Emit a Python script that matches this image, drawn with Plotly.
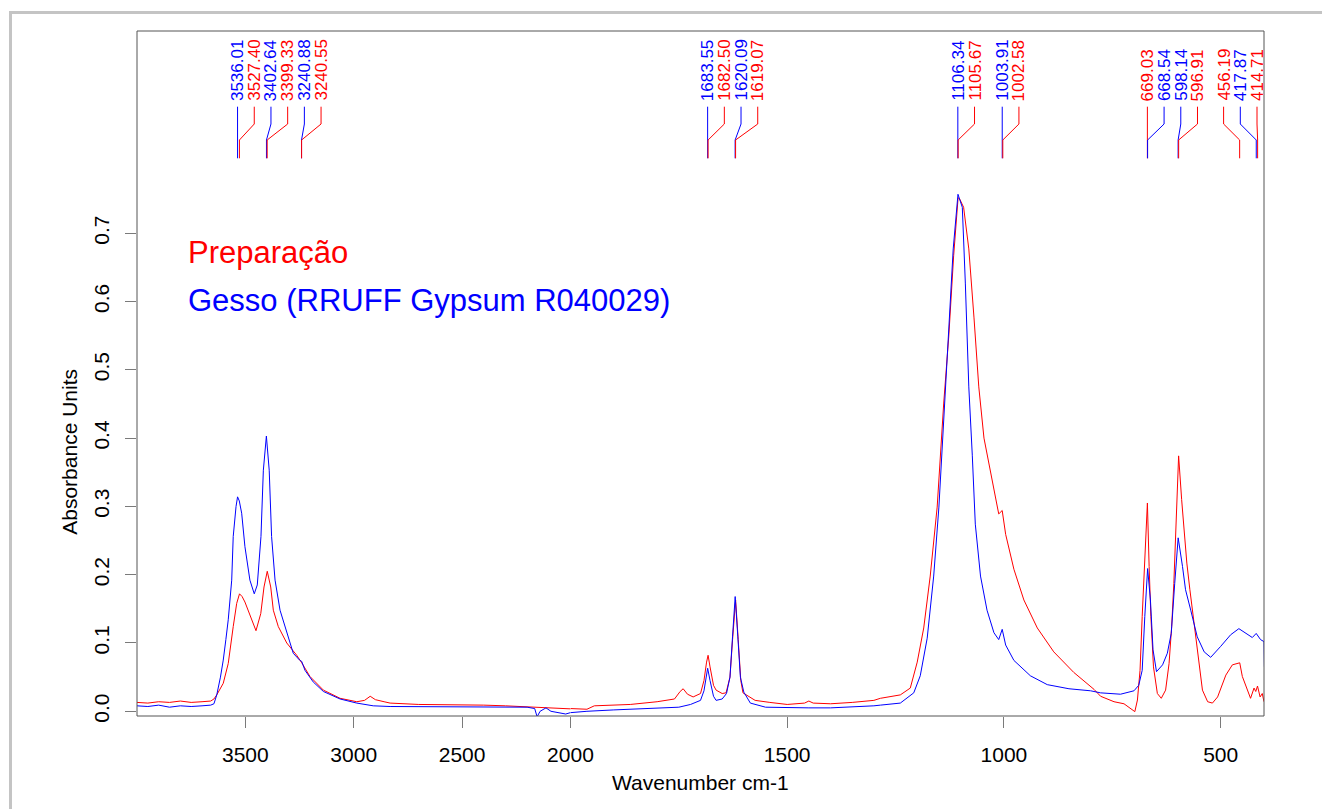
import plotly.graph_objects as go

# espectros (cm-1, absorbância)
blue_wn = [4000, 3950, 3900, 3850, 3800, 3750, 3700, 3660, 3645, 3632, 3615, 3602, 3590, 3579,
           3563, 3556, 3543, 3536, 3528, 3517, 3502, 3479, 3459, 3445, 3428, 3417, 3403, 3390,
           3379, 3363, 3340, 3309, 3279, 3250, 3240, 3225, 3187, 3140, 3063, 2986, 2910, 2832,
           2700, 2600, 2500, 2400, 2300, 2200, 2165, 2154, 2140, 2113, 2090, 2050, 2022, 2000,
           1962, 1900, 1850, 1800, 1750, 1723, 1700, 1692, 1686, 1683.5, 1678, 1670, 1664, 1650,
           1640, 1632, 1626, 1620, 1614, 1608, 1600, 1585, 1550, 1500, 1450, 1400, 1350, 1300,
           1285, 1239, 1208, 1193, 1177, 1162, 1150, 1139, 1127, 1117, 1106, 1096, 1089, 1081,
           1073, 1066, 1054, 1039, 1023, 1012, 1004, 996, 977, 939, 900, 850, 800, 777, 731,
           700, 689, 681, 675, 669, 668.5, 662, 656, 648, 634, 623, 614, 606, 600, 598, 588,
           581, 569, 554, 538, 523, 500, 477, 458, 438, 427, 418, 408, 400, 399]
blue_abs = [0.008, 0.007, 0.009, 0.006, 0.008, 0.007, 0.008, 0.009, 0.011, 0.024, 0.050, 0.075, 0.105, 0.134,
            0.192, 0.256, 0.300, 0.314, 0.308, 0.290, 0.241, 0.192, 0.172, 0.185, 0.256, 0.353, 0.403, 0.353,
            0.256, 0.192, 0.148, 0.114, 0.085, 0.075, 0.073, 0.060, 0.043, 0.029, 0.018, 0.012, 0.008, 0.007,
            0.007, 0.006, 0.007, 0.006, 0.007, 0.006, 0.004, -0.008, 0.000, 0.005, 0.000, -0.003, -0.004, -0.002,
            0.000, 0.002, 0.003, 0.004, 0.006, 0.010, 0.016, 0.030, 0.055, 0.063, 0.045, 0.022, 0.016, 0.018,
            0.026, 0.050, 0.110, 0.168, 0.110, 0.050, 0.028, 0.012, 0.006, 0.005, 0.005, 0.005, 0.006, 0.008,
            0.009, 0.012, 0.027, 0.052, 0.107, 0.198, 0.299, 0.425, 0.551, 0.677, 0.757, 0.738, 0.627, 0.475,
            0.375, 0.274, 0.198, 0.148, 0.115, 0.105, 0.120, 0.097, 0.0745, 0.052, 0.039, 0.033, 0.030, 0.027, 0.025,
            0.030, 0.038, 0.060, 0.139, 0.200, 0.209, 0.163, 0.090, 0.058, 0.068, 0.085, 0.114, 0.187, 0.240, 0.254, 0.212,
            0.178, 0.148, 0.109, 0.087, 0.079, 0.095, 0.112, 0.121, 0.112, 0.108, 0.114, 0.105, 0.102, 0.065]

red_wn = [4000, 3950, 3900, 3850, 3800, 3750, 3700, 3660, 3645, 3632, 3602, 3579, 3556, 3540,
          3527, 3515, 3502, 3482, 3451, 3429, 3414, 3399, 3383, 3371, 3348, 3309, 3263, 3240,
          3202, 3140, 3063, 2986, 2950, 2924, 2900, 2860, 2832, 2700, 2600, 2500, 2400, 2300,
          2219, 2100, 2000, 1962, 1945, 1900, 1862, 1800, 1760, 1747, 1740, 1730, 1717, 1700,
          1692, 1686, 1682.5, 1678, 1670, 1664, 1650, 1641, 1632, 1626, 1619, 1613, 1607, 1602,
          1574, 1540, 1500, 1460, 1450, 1440, 1400, 1350, 1300, 1285, 1239, 1216, 1200, 1185,
          1170, 1154, 1139, 1127, 1116, 1105.7, 1102, 1093, 1081, 1069, 1058, 1046, 1031, 1012,
          1004, 996, 977, 954, 923, 885, 839, 792, 777, 746, 723, 704, 698, 692, 686, 681, 675,
          669, 665, 661, 655, 646, 637, 627, 619, 613, 608, 603, 597, 590, 584, 578, 571, 561.5,
          552, 542, 530, 519, 507, 488, 473, 456, 450, 438, 431, 423, 419, 415, 409, 404, 400]
red_abs = [0.013, 0.012, 0.014, 0.013, 0.015, 0.013, 0.014, 0.015, 0.018, 0.024, 0.041, 0.070, 0.124, 0.158,
           0.172, 0.168, 0.160, 0.143, 0.118, 0.143, 0.182, 0.205, 0.182, 0.148, 0.124, 0.100, 0.082, 0.071,
           0.051, 0.031, 0.019, 0.014, 0.016, 0.022, 0.017, 0.014, 0.012, 0.010, 0.010, 0.009, 0.009, 0.008,
           0.007, 0.005, 0.004, 0.003, 0.008, 0.009, 0.010, 0.014, 0.018, 0.029, 0.033, 0.025, 0.021, 0.026,
           0.045, 0.072, 0.082, 0.065, 0.038, 0.031, 0.026, 0.027, 0.050, 0.105, 0.163, 0.105, 0.045, 0.027,
           0.016, 0.013, 0.010, 0.012, 0.015, 0.012, 0.011, 0.013, 0.016, 0.019, 0.024, 0.034, 0.072, 0.122,
           0.198, 0.299, 0.450, 0.551, 0.667, 0.752, 0.750, 0.738, 0.677, 0.576, 0.475, 0.400, 0.349, 0.289,
           0.294, 0.259, 0.208, 0.163, 0.122, 0.087, 0.057, 0.032, 0.022, 0.014, 0.011, 0.002, -0.0005, 0.0165, 0.060, 0.139, 0.212,
           0.305, 0.212, 0.139, 0.065, 0.026, 0.019, 0.031, 0.070, 0.124, 0.187, 0.280, 0.374, 0.310, 0.260, 0.217, 0.178, 0.129,
           0.075, 0.031, 0.014, 0.012, 0.021, 0.053, 0.068, 0.071, 0.051, 0.031, 0.019, 0.034, 0.029, 0.037, 0.021, 0.026, 0.014]

blue_peaks = [3536.01, 3402.64, 3240.88, 1683.55, 1620.09, 1106.34, 1003.91, 668.54, 598.14, 417.87]
red_peaks = [3527.40, 3399.33, 3240.55, 1682.50, 1619.07, 1105.67, 1002.58, 669.03, 596.91, 456.19, 414.71]

upper_ticks = [3500, 3000, 2500, 2000]
lower_ticks = [1500, 1000, 500]
y_ticks = [0.0, 0.1, 0.2, 0.3, 0.4, 0.5, 0.6, 0.7]

names = ["Preparação", "Gesso (RRUFF Gypsum R040029)"]
RED, BLUE = "#ff0000", "#0000ff"
FONT = "Arial, Liberation Sans, sans-serif"

W, H = 1330, 809
OFF = 8  # margem do <body> na página
# caixa do gráfico na tela: x 137..1264, y 31..716
ML, MT = 137 - OFF, 31 - OFF
MR, MB = W - (1264 - OFF), H - (716 - OFF)
PW, PH = W - ML - MR, H - MT - MB
WN_MAX, BREAK, WN_MIN = 4000, 2000, 400
Y_RANGE = [-0.0069, 0.9961]
# abaixo de 2000 cm-1 a escala é o dobro
split = (WN_MAX - BREAK) / ((WN_MAX - BREAK) + 2 * (BREAK - WN_MIN))


def wn_frac(w):
    if w >= BREAK:
        return split * (WN_MAX - w) / (WN_MAX - BREAK)
    return split + (1 - split) * (BREAK - w) / (BREAK - WN_MIN)


def col_to_x(c):  # coluna na tela -> fração do papel
    return (c - OFF - ML) / PW


def row_to_py(r):  # linha na tela -> fração do papel
    return (H - MB - (r - OFF)) / PH


def row_to_y(r):  # linha na tela -> valor de y
    return Y_RANGE[0] + row_to_py(r) * (Y_RANGE[1] - Y_RANGE[0])


def halves(wn, ab):
    i = next(k for k, w in enumerate(wn) if w < BREAK)
    return (wn[:i + 1], ab[:i + 1]), (wn[i - 1:], ab[i - 1:])


fig = go.Figure()
for wn, ab, col in [(red_wn, red_abs, RED), (blue_wn, blue_abs, BLUE)]:
    up, lo = halves(wn, ab)
    fig.add_trace(go.Scatter(x=up[0], y=up[1], mode="lines", line=dict(color=col, width=1),
                             xaxis="x", yaxis="y", showlegend=False, hoverinfo="skip"))
    fig.add_trace(go.Scatter(x=lo[0], y=lo[1], mode="lines", line=dict(color=col, width=1),
                             xaxis="x2", yaxis="y", showlegend=False, hoverinfo="skip"))

# rótulos dos picos, afastados para não se sobreporem (em pixels)
peaks = sorted([(p, BLUE) for p in blue_peaks] + [(p, RED) for p in red_peaks], key=lambda t: -t[0])
px = [wn_frac(p) * PW for p, _ in peaks]
gap = 16.7
pos = []
for v in px:
    pos.append(v if not pos else max(v, pos[-1] + gap))
right = PW - 7
for i in range(len(pos) - 1, -1, -1):
    lim = right if i == len(pos) - 1 else pos[i + 1] - gap
    pos[i] = min(pos[i], lim)

y_top, y_k1, y_k2, y_bot = row_to_y(106.7), row_to_y(124), row_to_y(140), row_to_y(158.3)
shapes = []
annotations = []
for (p, col), xp, xl in zip(peaks, px, pos):
    fx, fl = xp / PW, xl / PW
    shapes.append(dict(type="path", xref="paper", yref="y", line=dict(color=col, width=1),
                       path=f"M {fl},{y_top} L {fl},{y_k1} L {fx},{y_k2} L {fx},{y_bot}"))
    annotations.append(dict(text=f"{p:.2f}", x=fl, y=row_to_y(103), xref="paper", yref="y",
                            textangle=-90, xanchor="center", yanchor="bottom", showarrow=False,
                            font=dict(size=17, color=col, family=FONT)))

# legenda em texto
for k, (name, col) in enumerate(zip(names, [RED, BLUE])):
    annotations.append(dict(text=name, x=col_to_x(186), y=row_to_y(252 + 48 * k), xref="paper",
                            yref="y", xanchor="left", yanchor="middle", showarrow=False,
                            font=dict(size=31, color=col, family=FONT)))

annotations.append(dict(text="Wavenumber cm-1", x=0.5, y=row_to_py(782), xref="paper",
                        yref="paper", xanchor="center", yanchor="middle", showarrow=False,
                        font=dict(size=21, color="black", family=FONT)))
annotations.append(dict(text="Absorbance Units", x=col_to_x(70), y=0.38, xref="paper", yref="y",
                        textangle=-90, xanchor="center", yanchor="middle", showarrow=False,
                        font=dict(size=21, color="black", family=FONT)))

# caixa do gráfico e moldura cinza
shapes.append(dict(type="rect", xref="paper", yref="paper", x0=0, y0=0, x1=1, y1=1,
                   line=dict(color="#555555", width=1)))
shapes.append(dict(type="rect", xref="paper", yref="paper",
                   x0=col_to_x(10.5), x1=col_to_x(1328.5),
                   y0=row_to_py(860), y1=row_to_py(12.5),
                   line=dict(color="#c4c4c4", width=3)))

axis_common = dict(ticks="outside", ticklen=11, tickwidth=1, tickcolor="#7a7a7a", showgrid=False,
                   zeroline=False, showline=False,
                   tickfont=dict(size=21, color="black", family=FONT))

fig.update_layout(
    width=W, height=H,
    margin=dict(l=ML, r=MR, t=MT, b=MB),
    paper_bgcolor="white", plot_bgcolor="white",
    xaxis=dict(domain=[0, split], range=[WN_MAX, BREAK], tickvals=upper_ticks,
               ticktext=[str(t) for t in upper_ticks], anchor="y", ticklabelstandoff=9, **axis_common),
    xaxis2=dict(domain=[split, 1], range=[BREAK, WN_MIN], tickvals=lower_ticks,
                ticktext=[str(t) for t in lower_ticks], anchor="y", ticklabelstandoff=9, **axis_common),
    yaxis=dict(range=Y_RANGE, tickvals=y_ticks, ticktext=[f"{t:.1f}" for t in y_ticks],
               tickangle=-90, ticklabelstandoff=8, **axis_common),
    shapes=shapes,
    annotations=annotations,
)

fig.write_html("out.html")
